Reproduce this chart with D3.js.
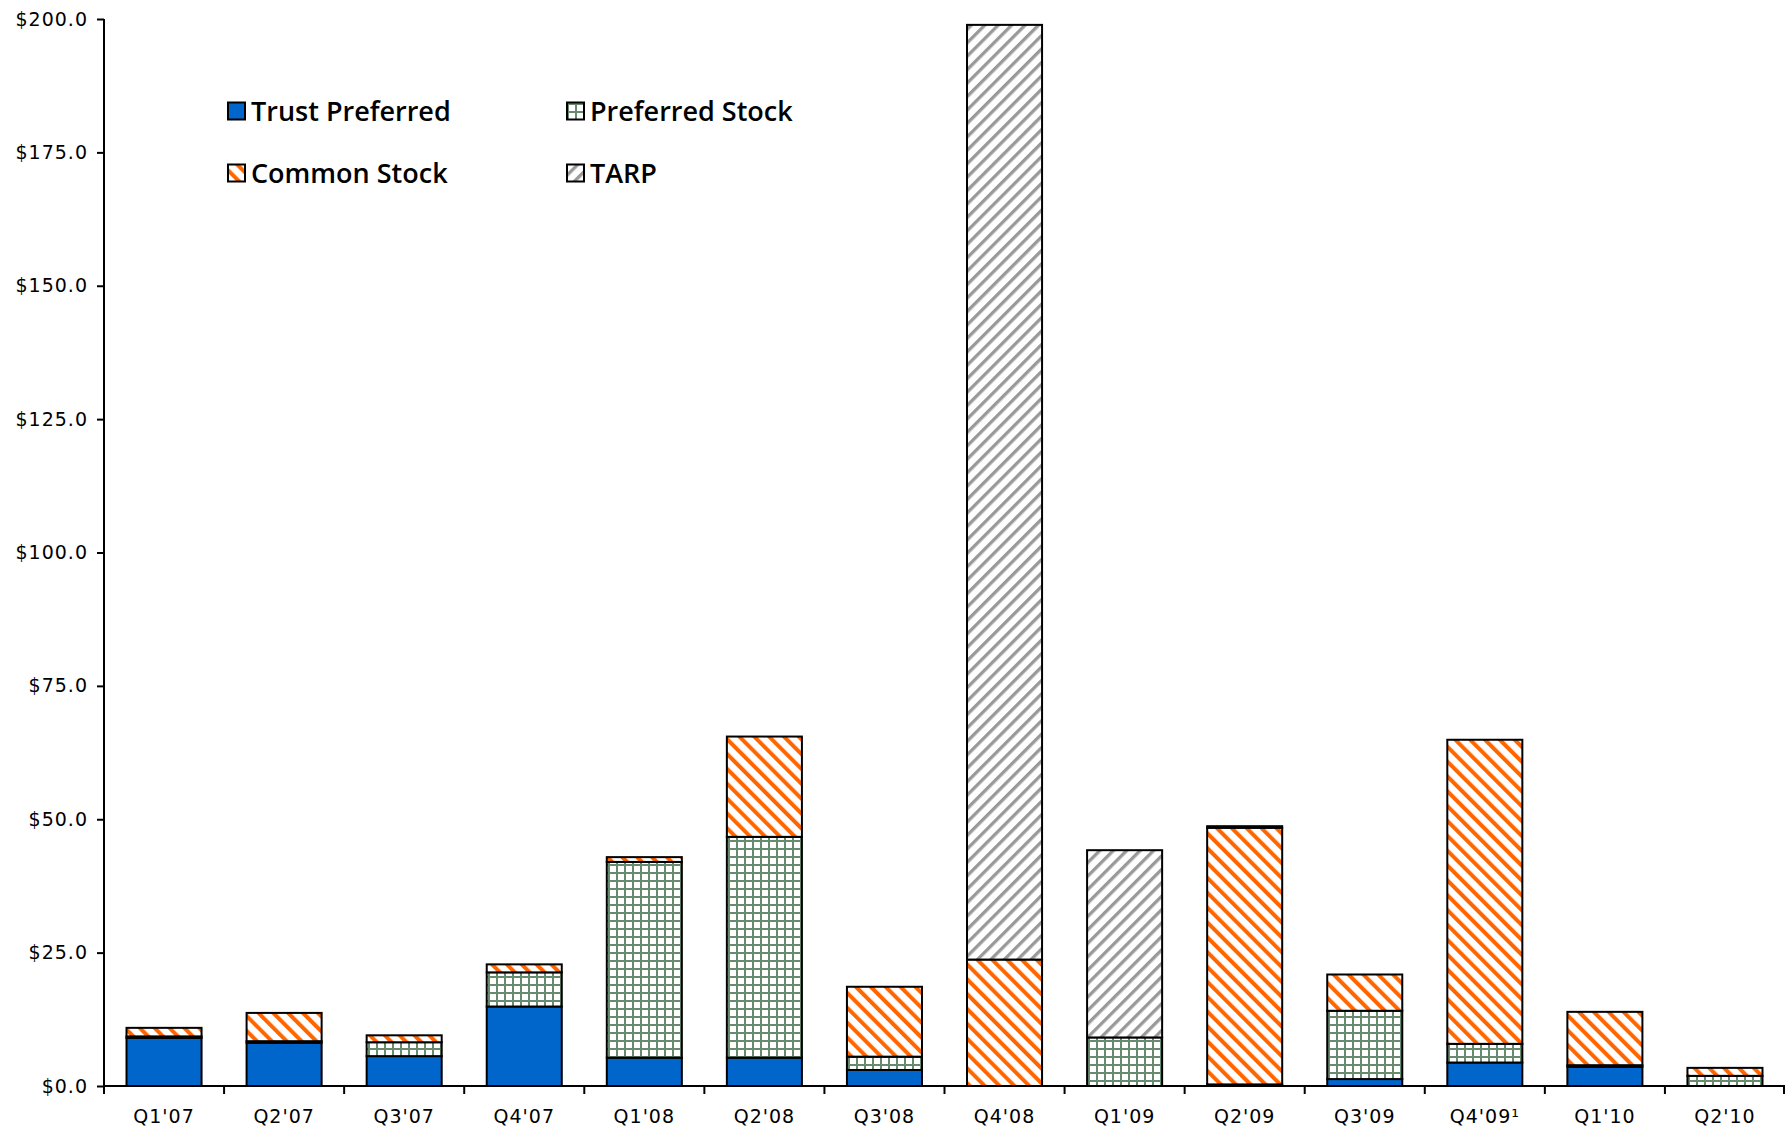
<!DOCTYPE html>
<html>
<head>
<meta charset="utf-8">
<script src="https://cdnjs.cloudflare.com/ajax/libs/d3/7.8.5/d3.min.js"></script>
<style>
  body { margin: 0; background: #fff; }
  .axis text { font-family: "DejaVu Sans", sans-serif; font-size: 19px; letter-spacing: 1px; fill: #000; }
  .axis path, .axis line { stroke: #000; stroke-width: 2px; }
  .legend text { font-family: "Open Sans", sans-serif; font-weight: 600; font-size: 27px; fill: #000; }
</style>
</head>
<body>
<div id="chart"></div>
<script>
var quarters = ["Q1'07", "Q2'07", "Q3'07", "Q4'07", "Q1'08", "Q2'08", "Q3'08", "Q4'08",
                "Q1'09", "Q2'09", "Q3'09", "Q4'09\u00b9", "Q1'10", "Q2'10"];

// $ billions
var trustPreferred = [9.0, 8.1, 5.6, 14.9, 5.3, 5.3, 3.0, 0, 0, 0.3, 1.3, 4.4, 3.6, 0];
var preferredStock = [0.3, 0.3, 2.6, 6.4, 36.7, 41.4, 2.5, 0, 9.1, 0, 12.8, 3.5, 0.3, 1.9];
var commonStock    = [1.6, 5.3, 1.3, 1.5, 0.9, 18.8, 13.1, 23.7, 0, 48.1, 6.8, 57.0, 10.0, 1.5];
var tarp           = [0, 0, 0, 0, 0, 0, 0, 175.2, 35.1, 0.3, 0, 0, 0, 0];

var seriesNames = ["Trust Preferred", "Preferred Stock", "Common Stock", "TARP"];
var yTicks = [0, 25, 50, 75, 100, 125, 150, 175, 200];

var width = 1785,
    height = 1132,
    plotLeft = 104,
    plotTop = 19,
    plotBottom = 1086;

var fills = {
  "Trust Preferred": "#0066cc",
  "Preferred Stock": "url(#grid)",
  "Common Stock": "url(#orange)",
  "TARP": "url(#grey)"
};

var rows = quarters.map(function(q, i) {
  return {
    quarter: q,
    "Trust Preferred": trustPreferred[i],
    "Preferred Stock": preferredStock[i],
    "Common Stock": commonStock[i],
    "TARP": tarp[i]
  };
});

var svg = d3.select("#chart").append("svg")
    .attr("width", width)
    .attr("height", height);

// patterns
var defs = svg.append("defs");

var grid = defs.append("pattern")
    .attr("id", "grid")
    .attr("patternUnits", "userSpaceOnUse")
    .attr("width", 8)
    .attr("height", 8);
grid.append("rect").attr("width", 8).attr("height", 8).attr("fill", "#fff");
grid.append("rect").attr("x", 0).attr("y", 0).attr("width", 2).attr("height", 8).attr("fill", "#688a6e");
grid.append("rect").attr("x", 0).attr("y", 0).attr("width", 8).attr("height", 2).attr("fill", "#688a6e");

function stripes(id, color, angle, size, w) {
  var p = defs.append("pattern")
      .attr("id", id)
      .attr("patternUnits", "userSpaceOnUse")
      .attr("width", size)
      .attr("height", size)
      .attr("patternTransform", "rotate(" + angle + ")");
  p.append("rect").attr("width", size).attr("height", size).attr("fill", "#fff");
  p.append("rect").attr("x", 0).attr("y", 0).attr("width", w).attr("height", size).attr("fill", color);
}
stripes("orange", "#ff6600", -45, 10.5, 4);
stripes("grey", "#999999", 45, 9.5, 3.3);

var x = d3.scaleBand()
    .domain(quarters)
    .range([plotLeft, width])
    .paddingInner(0.375)
    .paddingOuter(0.1875);

var y = d3.scaleLinear()
    .domain([0, 200])
    .range([plotBottom, plotTop]);

var stack = d3.stack().keys(seriesNames)(rows);

var layer = svg.selectAll(".layer")
    .data(stack)
  .enter().append("g")
    .attr("class", "layer")
    .attr("fill", function(d) { return fills[d.key]; });

layer.selectAll("rect")
    .data(function(d) { return d.filter(function(s) { return s[1] - s[0] > 0; }); })
  .enter().append("rect")
    .attr("x", function(d) { return x(d.data.quarter); })
    .attr("y", function(d) { return y(d[1]); })
    .attr("width", x.bandwidth())
    .attr("height", function(d) { return y(d[0]) - y(d[1]); })
    .attr("stroke", "#000")
    .attr("stroke-width", 2);

// y axis
var yAxis = d3.axisLeft(y)
    .tickValues(yTicks)
    .tickSize(7)
    .tickPadding(9)
    .tickFormat(function(d) { return "$" + d.toFixed(1); });

svg.append("g")
    .attr("class", "axis y")
    .attr("transform", "translate(" + plotLeft + ",0)")
    .call(yAxis)
    .select(".domain").attr("d", "M0," + plotTop + "V" + plotBottom);

// x axis: labels at band centres, ticks at band edges
var xAxis = d3.axisBottom(x)
    .tickSize(0)
    .tickPadding(24);

var xg = svg.append("g")
    .attr("class", "axis x")
    .attr("transform", "translate(0," + plotBottom + ")")
    .call(xAxis);
xg.select(".domain").attr("d", "M" + plotLeft + ",0H" + width);

xg.selectAll(".edge")
    .data(d3.range(quarters.length + 1))
  .enter().append("line")
    .attr("class", "edge")
    .attr("x1", function(i) { return Math.min(plotLeft + i * x.step(), width - 1); })
    .attr("x2", function(i) { return Math.min(plotLeft + i * x.step(), width - 1); })
    .attr("y1", 0)
    .attr("y2", 8);

// legend
var legend = svg.append("g").attr("class", "legend");
var legendPos = [[228, 111], [567, 111], [228, 173], [567, 173]];

var item = legend.selectAll("g")
    .data(seriesNames)
  .enter().append("g")
    .attr("transform", function(d, i) { return "translate(" + legendPos[i][0] + "," + legendPos[i][1] + ")"; });

item.append("rect")
    .attr("x", 0)
    .attr("y", -8.5)
    .attr("width", 17)
    .attr("height", 17)
    .attr("fill", function(d) { return fills[d]; })
    .attr("stroke", "#000")
    .attr("stroke-width", 2);

item.append("text")
    .attr("x", 23)
    .attr("dy", "0.36em")
    .text(function(d) { return d; });
</script>
</body>
</html>
